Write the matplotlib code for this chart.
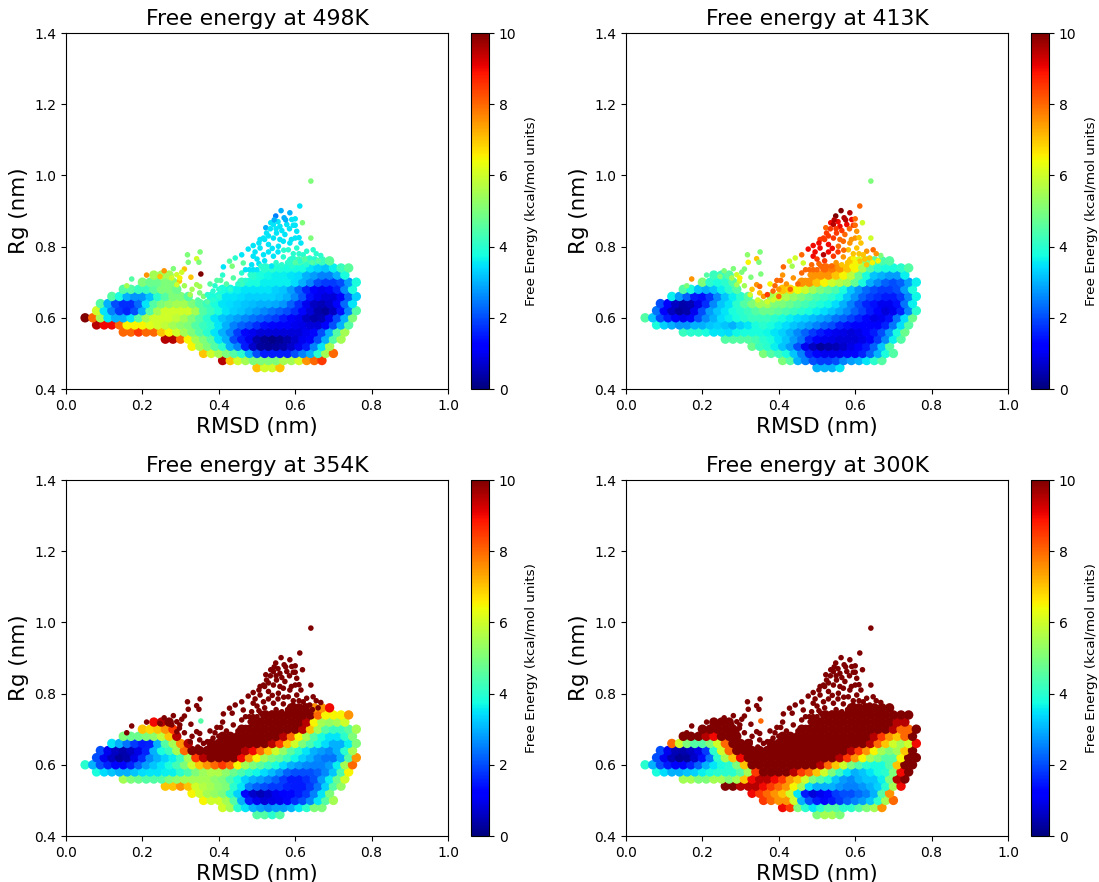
#!/usr/bin/env python
import numpy as np
import matplotlib
matplotlib.use('Agg')
import matplotlib.pyplot as plt

N = None
temps = [498, 413, 354, 300]
cell = 0.02

# dense part of the free energy surface: one row per Rg bin
rg_rows = [0.46, 0.48, 0.50, 0.52, 0.54, 0.56, 0.58, 0.60, 0.62, 0.64, 0.66, 0.68, 0.70, 0.72, 0.74, 0.76]
rmsd_first = [0.50, 0.41, 0.36, 0.33, 0.26, 0.15, 0.08, 0.05, 0.08, 0.09, 0.12, 0.15, 0.20, 0.23, 0.52, 0.59]

fe_498 = [
    [7, 6, 6, 7],
    [9.5, 7, 6, 5.5, 5, 5, 5, 5, 5.5, 5.5, 6, 7.5, 8, 8.5],
    [7, 6, 5.5, 5, 4.5, 4, 3, 2, 1.5, 1.5, 1.5, 1.5, 2, 2.5, 3, 4, 5.5, 8],
    [6.5, 5.5, 5, 4.5, 4, 3, 2.5, 1.5, .7, .3, .2, .3, .4, .7, 1, 1.5, 2.5, 3.5, 5.5],
    [9.5, 9.5, 8, 6.5, 5.5, 5, 4.5, 3.5, 3, 2, 1.5, 1, .4, .2, .1, .2, .4, .7, 1, 1.2, 2, 3, 4.5, 5.5],
    [8, 8, 8.5, 8, 8, 7, 6.5, 6, 5.5, 5, 4.5, 4, 3.5, 3, 2.5, 1.8, 1.3, 1, .8, .8, .8, .8, .8, .8, 1, 1.3, 2, 3, 4.5, 5.5],
    [9.5, 9, 9, 8, 6.5, 6.5, 6.5, 6.2, 6, 5.8, 5.5, 5.2, 5, 4.5, 4.2, 4, 3.5, 3, 2.5, 2.2, 2, 1.7, 1.4, 1.3, 1.2, 1.2, 1, .9, .8, .8, 1.2, 2, 3, 4.5],
    [10, 8, 5.5, 3.5, 3, 3, 3.5, 4.5, 5.5, 6, 6, 6, 5.8, 5.5, 5, 4.5, 4, 3.5, 3.2, 3, 2.8, 2.6, 2.4, 2.2, 2, 1.8, 1.5, 1.2, 1, .6, .4, .5, 1, 2, 3, 5],
    [6, 3.5, 2.5, 1.8, 1.6, 2, 3, 4.5, 5.5, 6, 6, 6, 6, 5.5, 4.5, 4.2, 3.8, 3.5, 3.3, 3.2, 3, 2.8, 2.6, 2.4, 2.2, 2, 1.7, 1.3, .8, .4, .3, .6, 1.4, 2.6, 4.5],
    [4.5, 3, 2, 1.7, 1.7, 2.3, 3.5, 4.5, 5, 5.3, 5.5, 5.5, 5, 4.5, 4.2, 3.8, 3.5, 3.4, 3.3, 3.2, 3.1, 3, 3, 2.9, 2.7, 2.2, 1.7, 1, .6, .5, .7, 1.2, 2.3, 3.5],
    [4.5, 3.8, 3, 2.7, 2.7, 3.2, 4, 4.5, 5, 5, 4.5, N, N, 3.8, 3.8, 3.5, 3.5, 3.4, 3.3, 3.3, 3.3, 3.3, 3.2, 3, 2.6, 2.1, 1.4, 1, .8, .8, 1.1, 2.2, 3.3],
    [4.5, 4.5, 4.2, 4.2, 4.6, 5, 5, 4.8, N, N, N, N, N, 3.8, 3.7, 3.6, 3.5, 3.5, 3.5, 3.5, 3.3, 3.2, 2.8, 2.2, 1.6, 1.2, 1, 1.2, 1.6, 2.6, 3.8],
    [5, 4.8, 4.8, 5, 5, N, N, N, N, N, N, N, N, 4.2, 3.8, 3.8, 3.6, 3.6, 3.6, 3.6, 3.4, 3, 2.6, 2, 1.8, 1.8, 2, 2.8, 3.8],
    [5.5, 5.5, 5.5, N, N, N, N, N, N, N, N, N, N, 4, 3.8, 3.7, 3.6, 3.6, 3.5, 3.4, 3, 2.8, 2.5, 2.5, 3, 3.8],
    [4, 4, 3.9, 3.8, 3.8, 3.8, 3.5, 3.3, 3.2, 3.6, 4.2, 4.6],
    [4, 4.3, 4.3, 4, 4.2, 4.6],
]

fe_413 = [
    [3, 3, 3, 3.5],
    [5, 4.5, 3, 2.5, 2, 1.8, 1.8, 2, 2.5, 2.8, 3, 3.5, 4, 4.5],
    [5, 4.5, 4.2, 3.8, 3.2, 2.5, 1.6, 1.2, 1, 1, 1, 1.2, 1.3, 1.6, 2.2, 3, 3.8, 4.5],
    [4.8, 4.2, 4, 3.6, 3.2, 2.8, 2, 1, .6, .3, .4, .5, .7, .9, 1.2, 1.5, 2.2, 3.2, 4.5],
    [4.5, 4.5, 4.5, 4.5, 4.3, 4, 3.8, 3.5, 3.2, 2.8, 2.4, 1.6, 1.2, 1, .9, .8, .8, .8, .9, 1.2, 1.8, 2.6, 3.6, 4.5],
    [4.2, 4, 4, 3.8, 3.5, 3.5, 3.4, 3.7, 3.8, 3.8, 3.8, 3.7, 3.5, 3.3, 3, 2.6, 2.2, 1.8, 1.5, 1.3, 1, .9, .8, .9, 1.2, 1.5, 2, 2.8, 3.8, 4.8],
    [3.8, 3.3, 3, 2.7, 2.7, 3, 3, 3.2, 3.3, 3.2, 3, 3.3, 3.5, 3.8, 4, 3.8, 3.6, 3.4, 3.2, 3, 2.8, 2.5, 2.2, 2, 1.6, 1.4, 1.2, 1.1, 1.2, 1.2, 1.6, 2.4, 3.4, 4.5],
    [4.5, 3.2, 2, 1.5, 1.2, 1, 1.3, 2, 2.6, 3, 3.4, 3.6, 3.8, 4, 4.2, 4.2, 4.2, 4, 3.8, 3.6, 3.4, 3.3, 3.1, 2.9, 2.7, 2.4, 2.2, 1.9, 1.6, 1.3, .9, 1, 1.4, 2.4, 3.4, 4.8],
    [2.4, 1.2, .6, .3, .4, 1, 2, 2.8, 3.2, 3.5, 3.8, 4, 4.2, 4.5, 4.8, 4.8, 4.6, 4.4, 4.2, 4, 3.8, 3.6, 3.4, 3.2, 2.9, 2.6, 2.2, 1.9, 1.5, 1.2, .8, 1, 1.6, 2.6, 4],
    [2, 1.2, .6, .4, .5, .9, 1.7, 2.6, 3.2, 3.5, 4, 4.5, 5, 5.5, 5.5, 5, 5, 4.8, 4.5, 4.3, 4.1, 3.9, 3.7, 3.4, 3, 2.5, 2, 1.6, 1.4, 1, 1, 1.4, 2.4, 3.6],
    [3.6, 2.8, 2.2, 1.5, 1.4, 1.8, 2.6, 3.2, 3.6, 4, 4.5, N, N, 5.5, 6, 5.6, 5.3, 5, 4.7, 4.4, 4.2, 4, 3.7, 3.2, 2.7, 2.2, 1.9, 1.7, 1.5, 1.5, 1.8, 2.6, 3.7],
    [4.5, 3.8, 3.2, 3, 3.2, 3.6, 4, 4.5, N, N, N, N, N, 7, 6.8, 6.4, 6, 5.5, 5, 4.7, 4.4, 3.8, 3.2, 2.7, 2.3, 2, 1.8, 1.8, 2, 2.8, 3.8],
    [5, 4, 3.8, 4, 4.5, N, N, N, N, N, N, N, N, 7.5, 7.5, 7, 6.5, 6, 5.7, 5.4, 4.7, 3.8, 3, 2.6, 2.2, 2, 2.2, 2.8, 3.6],
    [4.2, 4.2, 4.5, N, N, N, N, N, N, N, N, N, N, 7.5, 7.5, 7.5, 7, 6.5, 5.8, 4.8, 3.8, 3.2, 3, 2.8, 2.8, 3.6],
    [8, 7.8, 7.5, 7, 6.5, 5.5, 4.5, 4, 3.8, 3.8, 4, 4.5],
    [7, 6, 5, 4.5, 4.4, 4.5],
]

fe_354 = [
    [4.5, 4.5, 4, 4.5],
    [6, 5.5, 4, 3.5, 3, 2.8, 2.6, 2.8, 2.8, 3, 3.5, 4, 5, 5],
    [6.5, 6, 6, 5.5, 4.5, 3, 1.5, 1, .8, .9, 1, 1.3, 1.7, 2, 2.6, 3.5, 4.5, 5.5],
    [6.5, 6, 5.5, 5.3, 5, 4, 3.3, 1.3, .7, .5, .7, 1, 1.2, 1.3, 1.5, 1.8, 2.5, 3.5, 5],
    [7, 7, 7.5, 7, 6, 5.7, 5.5, 5.2, 5, 4, 3.5, 2.5, 2.2, 2, 1.8, 1.8, 1.6, 1.5, 1.5, 1.8, 2.4, 3.3, 4.5, 5.3],
    [5.5, 5, 4.8, 4.5, 4.5, 4.5, 5, 5.2, 5.5, 5.5, 5.5, 5.5, 5.2, 5, 4.4, 3.8, 3.3, 3, 2.8, 2.5, 2.2, 1.8, 1.5, 1.5, 1.7, 2, 2.8, 3.6, 4.8, 6],
    [3.8, 3.4, 3.2, 3, 3, 3.2, 3.4, 3.5, 3.5, 3.6, 3.6, 4, 4.4, 5, 5.4, 5.6, 5.6, 5.2, 4.8, 4.4, 4, 3.7, 3.4, 3.1, 2.7, 2.2, 2, 2, 2, 2.2, 2.6, 3.2, 4.4, 6.5],
    [4, 3, 2, 1.6, 1.3, 1.3, 1.6, 2.2, 2.8, 3.2, 3.5, 3.8, 4.3, 5, 6, 7, 7.5, 8, 8.5, 8, 6.5, 5.5, 5, 4.6, 4.2, 3.8, 3.4, 3, 2.8, 2.6, 2.5, 2.5, 2.8, 3.6, 5.5, 8],
    [2, 1, .6, .3, .4, .9, 1.7, 2.6, 3, 3.3, 3.6, 4.2, 5.5, 8.5, 9.5, 10, 10, 10, 10, 9, 7.5, 6.5, 5.5, 5, 4.7, 4.2, 3.7, 3.3, 3, 2.6, 2.4, 2.4, 3, 4.5, 7.5],
    [2, 1, .6, .4, .6, .9, 1.6, 3, 3.8, 4.2, 5.5, 8, 10, 10, 10, 10, 10, 10, 10, 9.5, 9, 8, 7, 6, 5.3, 4.6, 4, 3.5, 3, 2.8, 2.6, 3, 4, 5.5],
    [3.5, 3, 2.4, 1.8, 1.5, 1.6, 3, 4.5, 5.5, 7.5, 9.5, N, N, 10, 10, 10, 10, 10, 10, 10, 10, 9.5, 8.5, 7, 6, 5, 4.4, 3.8, 3.4, 3, 3, 3.6, 5],
    [5, 4.8, 4.8, 5, 5.2, 5.8, 7, 9.5, N, N, N, N, N, 10, 10, 10, 10, 10, 10, 10, 10, 9.5, 8, 6.5, 5.5, 4.5, 3.8, 3.5, 3.5, 4, 5],
    [7, 6.8, 7, 7.5, 8.5, N, N, N, N, N, N, N, N, 10, 10, 10, 10, 10, 10, 10, 10, 9.5, 7, 5.5, 4.5, 4.2, 4.2, 4.6, 5.5],
    [9, 9.5, 10, N, N, N, N, N, N, N, N, N, N, 10, 10, 10, 10, 10, 10, 10, 9.5, 6.5, 5.5, 5.3, 5.5, 6],
    [10, 10, 10, 10, 10, 10, 10, 8, 6.5, 6.5, 6.5, 7.5],
    [10, 10, 10, 7.5, 7.5, 9],
]

fe_300 = [
    [5, 5.5, 5.5, 5],
    [9, 8.5, 5, 4, 3.5, 4, 4.5, 4.5, 4, 4, 4.5, 5, 5.5, 7.5],
    [8.5, 8, 7.5, 7.5, 6, 3, 2, 1.5, 1.3, 1.5, 1.8, 2.2, 2.5, 2.8, 3.2, 4, 5.5, 8],
    [9, 8.5, 8, 7.5, 7, 6, 3.5, 1.5, .8, 1, 1.3, 1.8, 2, 2, 2.3, 2.5, 3, 4.5, 7.5],
    [10, 10, 9.5, 9.5, 9.5, 9, 8.5, 8, 7.5, 6.5, 5.5, 3.5, 3, 3, 3, 2.7, 2.5, 2.5, 2.7, 3, 3.3, 4, 5.5, 9],
    [5.5, 5.5, 5, 5, 5.5, 5.5, 5, 5.5, 7, 9, 9.5, 9.5, 9, 8.5, 7.5, 7, 6, 5, 4.5, 4, 3.2, 2.8, 2.6, 3, 3.2, 3.2, 3.6, 5, 9.5, 10],
    [3.8, 3.4, 3, 3, 3.2, 3.3, 3.6, 3.8, 4, 4, 4, 4.5, 5.5, 8.5, 10, 10, 10, 10, 9.5, 8.5, 8, 7, 6, 5, 4.2, 3.5, 3, 3.2, 3.5, 3.8, 4, 5, 9, 10],
    [4, 3, 2, 1.5, 1.2, 1.2, 1.6, 2.2, 3, 3.5, 3.8, 4, 5, 7, 10, 10, 10, 10, 10, 10, 10, 10, 10, 9.5, 8, 7, 6, 5, 4.5, 4, 3.8, 3.8, 4.5, 7, 10, 10],
    [2, 1, .5, .2, .3, .7, 1.4, 2.4, 4, 5.5, 7, 9, 10, 10, 10, 10, 10, 10, 10, 10, 10, 10, 10, 10, 9.5, 8.5, 7.5, 6.5, 5.5, 5, 4.5, 4.5, 6.5, 10, 10],
    [2, 1, .5, .4, .6, .9, 1.8, 4, 6, 8, 10, 10, 10, 10, 10, 10, 10, 10, 10, 10, 10, 10, 10, 10, 10, 9.5, 8.5, 7.5, 6.5, 5.5, 5, 5.5, 7, 10],
    [8, 6, 5, 4.5, 4.5, 5, 6, 8, 10, 10, 10, N, N, 10, 10, 10, 10, 10, 10, 10, 10, 10, 10, 10, 10, 10, 9.5, 8, 7, 6, 5.5, 6, 9],
    [10, 10, 10, 9.5, 9, 10, 10, 10, N, N, N, N, N, 10, 10, 10, 10, 10, 10, 10, 10, 10, 10, 10, 10, 9.5, 8.5, 7.5, 7, 8, 10],
    [10, 10, 10, 10, 10, N, N, N, N, N, N, N, N, 10, 10, 10, 10, 10, 10, 10, 10, 10, 10, 10, 10, 9.5, 8, 8, 10],
    [10, 10, 10, N, N, N, N, N, N, N, N, N, N, 10, 10, 10, 10, 10, 10, 10, 10, 10, 10, 10, 9.5, 9.5],
    [10, 10, 10, 10, 10, 10, 10, 10, 10, 10, 10, 10],
    [10, 10, 10, 10, 10, 10],
]

# the loose points above the main basin
sparse_rmsd = [.172, .159, .211, .257, .246, .281, .318, .351, .342, .348,
               .320, .310, .303, .353, .327, .290, .277, .297, .298, .290,
               .342, .350, .377, .330, .350, .360, .310, .325, .345, .370,
               .385, .412, .428, .435, .443, .460, .477, .490, .508, .523,
               .536, .549, .563, .586, .571, .591, .600, .612, .619, .641,
               .641, .604, .600, .578, .560, .543, .525, .551, .573, .517,
               .543, .569, .586, .508, .530, .556, .582, .604, .630, .647,
               .621, .638, .490, .517, .543, .569, .595, .612, .630, .667,
               .464, .486, .505, .538, .565, .591, .438, .460, .482, .500,
               .520, .420, .430, .400, .480, .470, .450, .410,
               .470, .490, .510, .525, .550, .580, .600, .625, .655, .660,
               .645, .500, .530, .555, .570, .495, .595, .610, .615, .520,
               .530, .560, .590, .610, .535, .550, .565, .585, .595, .575,
               .555, .545, .600, .505, .540, .405, .390, .370, .385, .400, .395]
sparse_rg = [.709, .690, .720, .732, .716, .738, .777, .785, .766, .756,
             .756, .737, .728, .723, .714, .721, .712, .703, .712, .693,
             .693, .688, .695, .680, .670, .660, .690, .665, .650, .665,
             .675, .743, .759, .745, .768, .777, .793, .803, .820, .853,
             .867, .886, .901, .895, .881, .876, .878, .914, .867, .984,
             .824, .843, .824, .862, .857, .862, .838, .838, .834, .824,
             .824, .815, .810, .796, .806, .801, .791, .796, .787, .791,
             .777, .768, .773, .777, .773, .771, .768, .759, .749, .775,
             .754, .749, .752, .745, .749, .745, .712, .726, .721, .735,
             .760, .695, .680, .660, .735, .705, .695, .720,
             .735, .735, .745, .745, .755, .755, .755, .765, .780, .760,
             .755, .765, .785, .785, .790, .785, .780, .780, .810, .820,
             .830, .820, .820, .825, .850, .850, .845, .850, .860, .875,
             .870, .875, .860, .810, .795, .705, .690, .645, .650, .680, .705]
sparse_498 = [4.5, 5.5, 7.5, 7.5, 7, 5, 5, 5, 6, 5,
              5, 7, 6, 10, 7, 6, 6, 7, 6.5, 6,
              5.5, 5.5, 4.5, 5.5, 5, 5, 5.5, 5.5, 4.5, 4,
              4, 3.5, 4.5, 5, 4, 3.5, 3.5, 3.5, 3.5, 3,
              3.5, 2.5, 3, 3, 3, 3.5, 3.5, 3.5, 5, 5,
              5, 3.5, 3.5, 3.5, 3.5, 3.5, 3.5, 3.5, 3.5, 3.5,
              3.5, 3.5, 3.5, 3.5, 3.5, 3.5, 4, 4, 4, 4,
              4, 4, 3.5, 3.5, 3.5, 4, 4, 4, 4, 4,
              4.5, 3.5, 3.5, 3.5, 4, 4, 4.5, 4, 4, 3.5,
              3.5, 4.5, 4, 4, 3.5, 4, 4, 4,
              3.5, 3.5, 4, 4, 4, 4, 4.5, 4.5, 4, 4.5,
              4.5, 3.5, 3.5, 3.5, 4, 3.5, 4, 4, 3.5, 3.5,
              3.5, 3.5, 3.5, 3.5, 3.5, 3.5, 3.5, 3.5, 3.5, 3,
              3.5, 3, 3.5, 3.5, 3.5, 4.5, 4, 4.5, 4, 4, 4.5]
sparse_413 = [7.5, 5, 4.5, 5, 5, 5, 5.2, 5, 7, 5,
              6.5, 5, 5, 5, 5, 6, 5.5, 6, 6.5, 5.5,
              7.5, 8, 6.5, 7, 7, 7.5, 5.5, 6, 6, 8.5,
              8, 8, 6, 5.5, 6, 8, 9, 9, 8.5, 8,
              9, 10, 10, 9.5, 9.5, 9, 8, 8, 6, 5,
              6, 7.5, 7.5, 9, 9, 9.5, 8.5, 8.5, 8, 8.5,
              8.5, 8, 7.5, 9, 9, 8, 7, 7, 7.5, 8,
              7, 7, 9, 9.5, 8.5, 7.5, 6.5, 7, 7, 5,
              6, 8, 8, 8, 7, 6.5, 7.5, 8, 7.5, 8,
              8.5, 7.5, 8, 8, 8, 7.5, 8, 7.5,
              8, 8, 8, 8, 7.5, 7, 6.5, 7, 7.5, 6.5,
              6.5, 8.5, 9, 8.5, 8, 9, 7, 7, 7, 8.5,
              8.5, 8, 7.5, 7, 8.5, 8.5, 8.5, 8, 8.5, 9.5,
              9, 9.5, 8, 9, 9, 8, 8, 6, 6, 7.5, 8]
sparse_354 = [10, 10, 10, 10, 10, 10, 10, 10, 10, 10,
              10, 10, 10, 4.5, 10, 10, 10, 10, 10, 10,
              10, 10, 10, 10, 10, 10, 10, 10, 10, 10,
              10, 10, 10, 10, 10, 10, 10, 10, 10, 10,
              10, 10, 10, 10, 10, 10, 10, 10, 10, 10,
              10, 10, 10, 10, 10, 10, 10, 10, 10, 10,
              10, 10, 10, 10, 10, 10, 10, 10, 10, 10,
              10, 10, 10, 10, 10, 10, 10, 10, 10, 10,
              10, 10, 10, 10, 10, 10, 10, 10, 10, 10,
              10, 10, 10, 10, 10, 10, 10, 10,
              10, 10, 10, 10, 10, 10, 10, 10, 10, 10,
              10, 10, 10, 10, 10, 10, 10, 10, 10, 10,
              10, 10, 10, 10, 10, 10, 10, 10, 10, 10,
              10, 10, 10, 10, 10, 10, 10, 10, 10, 10, 10]
sparse_300 = [10, 10, 10, 10, 10, 10, 10, 10, 10, 10,
              10, 10, 10, 8, 10, 10, 10, 10, 10, 10,
              10, 10, 10, 10, 10, 10, 10, 10, 10, 10,
              10, 10, 10, 10, 10, 10, 10, 10, 10, 10,
              10, 10, 10, 10, 10, 10, 10, 10, 10, 10,
              10, 10, 10, 10, 10, 10, 10, 10, 10, 10,
              10, 10, 10, 10, 10, 10, 10, 10, 10, 10,
              10, 10, 10, 10, 10, 10, 10, 10, 10, 10,
              10, 10, 10, 10, 10, 10, 10, 10, 10, 10,
              10, 10, 10, 10, 10, 10, 10, 10,
              10, 10, 10, 10, 10, 10, 10, 10, 10, 10,
              10, 10, 10, 10, 10, 10, 10, 10, 10, 10,
              10, 10, 10, 10, 10, 10, 10, 10, 10, 10,
              10, 10, 10, 10, 10, 10, 10, 10, 10, 10, 10]

dense_sets = [fe_498, fe_413, fe_354, fe_300]
sparse_sets = [sparse_498, sparse_413, sparse_354, sparse_300]

W, H = 1099.0, 882.0
ax_left = [66, 626]
ax_top = [33, 480]
ax_w, ax_h = 382, 356
cb_gap, cb_w = 23, 18


def draw_panel(fig, left, top, temp, dense, sparse):
    ax = fig.add_axes([left / W, 1 - (top + ax_h) / H, ax_w / W, ax_h / H])
    xs, ys, cs = [], [], []
    for rg, first, row in zip(rg_rows, rmsd_first, dense):
        for i, val in enumerate(row):
            if val is not None:
                xs.append(first + i * cell)
                ys.append(rg)
                cs.append(val)
    pts = ax.scatter(xs, ys, c=cs, s=46, cmap='jet', vmin=0, vmax=10, linewidths=0)
    ax.scatter(sparse_rmsd, sparse_rg, c=sparse, s=16, cmap='jet', vmin=0, vmax=10, linewidths=0)
    ax.set_xlim(0, 1.0)
    ax.set_ylim(0.4, 1.4)
    ax.set_xticks([0.0, 0.2, 0.4, 0.6, 0.8, 1.0])
    ax.set_yticks([0.4, 0.6, 0.8, 1.0, 1.2, 1.4])
    ax.set_xlabel('RMSD (nm)', fontsize=15.4, labelpad=3)
    ax.set_ylabel('Rg (nm)', fontsize=15.4)
    ax.set_title('Free energy at {}K'.format(temp), fontsize=15.8, pad=6)

    cax = fig.add_axes([(left + ax_w + cb_gap) / W, 1 - (top + ax_h) / H, cb_w / W, ax_h / H])
    cb = fig.colorbar(pts, cax=cax)
    cb.set_ticks([0, 2, 4, 6, 8, 10])
    cb.set_label('Free Energy (kcal/mol units)', fontsize=9.7, labelpad=6)


def main():
    fig = plt.figure(figsize=(W / 100, H / 100), dpi=100)
    for n, temp in enumerate(temps):
        draw_panel(fig, ax_left[n % 2], ax_top[n // 2], temp, dense_sets[n], sparse_sets[n])
    fig.savefig('out.png', dpi=100)


if __name__ == '__main__':
    main()
